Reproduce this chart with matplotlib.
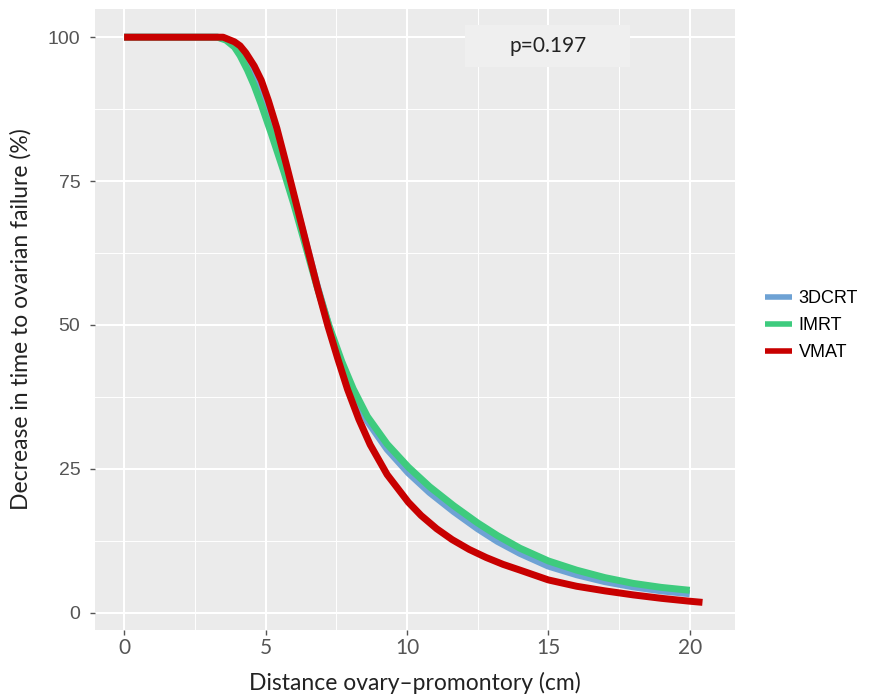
import matplotlib
matplotlib.use("Agg")
import matplotlib.pyplot as plt
from matplotlib.patches import Rectangle

# ---- data ----
x_crt  = [0, 3.3, 3.6, 3.9, 4.1, 4.36, 4.6, 4.85, 5.2, 5.65, 6.0, 6.4, 6.8, 7.25, 7.7, 8.1, 8.6, 9.3, 10.05, 10.8, 11.65, 12.5, 13.2, 14.0, 15.0, 16, 17, 18, 19, 20]
y_crt  = [100, 100, 99.7, 98.8, 97.5, 95.2, 92.7, 89.6, 84.8, 78.1, 72.3, 64.8, 57.3, 49.6, 43.0, 38.2, 33.3, 28.4, 24.3, 20.9, 17.6, 14.6, 12.4, 10.3, 8.1, 6.6, 5.4, 4.5, 3.8, 3.3]

x_imrt = [0, 3.3, 3.6, 3.9, 4.1, 4.36, 4.6, 4.85, 5.2, 5.65, 6.0, 6.4, 6.8, 7.25, 7.7, 8.1, 8.6, 9.3, 10.05, 10.8, 11.65, 12.5, 13.2, 14.0, 15.0, 16, 17, 18, 19, 20]
y_imrt = [100, 100, 99.5, 98.3, 96.8, 94.3, 91.6, 88.3, 83.3, 76.6, 71.0, 64.0, 57.0, 49.8, 43.6, 38.9, 34.1, 29.3, 25.3, 21.9, 18.6, 15.6, 13.4, 11.2, 9.0, 7.4, 6.1, 5.1, 4.4, 3.9]

x_vmat = [0, 3.5, 3.7, 3.9, 4.1, 4.3, 4.6, 4.85, 5.1, 5.4, 5.75, 6.1, 6.5, 6.85, 7.2, 7.55, 7.9, 8.3, 8.7, 9.3, 10.05, 10.5, 11.05, 11.6, 12.2, 12.8, 13.4, 14.0, 15.0, 16, 17, 18, 19, 20, 20.45]
y_vmat = [100, 100, 99.6, 99.2, 98.5, 97.3, 95.0, 92.5, 89.0, 84.2, 77.6, 70.8, 63.0, 56.2, 49.9, 44.2, 38.8, 33.6, 29.2, 24.0, 19.2, 16.9, 14.6, 12.7, 11.0, 9.6, 8.4, 7.4, 5.7, 4.6, 3.8, 3.1, 2.5, 2.0, 1.8]

series_names = ["3DCRT", "IMRT", "VMAT"]
x_ticks = [0, 5, 10, 15, 20]
y_ticks = [0, 25, 50, 75, 100]
p_text = "p=0.197"

colors = ["#6ea2d4", "#3ecb7e", "#c80000"]

fig = plt.figure(figsize=(8.72, 7.0), dpi=100)
ax = fig.add_axes([95/872, 1-630/700, (735-95)/872, (630-9)/700])
ax.set_facecolor("#ebebeb")
for s in ax.spines.values():
    s.set_visible(False)

ax.set_xlim(-1.03, 21.6)
ax.set_ylim(-3.0, 104.9)
ax.set_xticks(x_ticks)
ax.set_yticks(y_ticks)
ax.set_xticks([2.5, 7.5, 12.5, 17.5], minor=True)
ax.set_yticks([12.5, 37.5, 62.5, 87.5], minor=True)
ax.grid(which="major", color="white", lw=1.5)
ax.grid(which="minor", color="white", lw=0.7)
ax.set_axisbelow(True)
ax.tick_params(which="major", length=3.5, width=1, color="#555555")
ax.tick_params(axis="y", pad=7)
ax.tick_params(axis="x", pad=2)
ax.tick_params(which="minor", length=0)

for lab in ax.get_yticklabels():
    lab.set_fontfamily("Liberation Sans")
    lab.set_fontsize(14)
    lab.set_color("#555555")
for lab in ax.get_xticklabels():
    lab.set_fontfamily("Lato")
    lab.set_fontsize(15)
    lab.set_color("#555555")

for xs, ys, c, n in zip([x_crt, x_imrt, x_vmat], [y_crt, y_imrt, y_vmat], colors, series_names):
    ax.plot(xs, ys, color=c, lw=5, label=n, solid_capstyle="butt", solid_joinstyle="round", zorder=3)

ax.set_xlabel("Distance ovary–promontory (cm)", fontfamily="Lato", fontsize=16.5, color="#222222", labelpad=10)
ax.set_ylabel("Decrease in time to ovarian failure (%)", fontfamily="Lato", fontsize=16.5, color="#222222", labelpad=12)

ax.add_patch(Rectangle((0.578, 0.9066), 0.258, 0.0674, transform=ax.transAxes,
                       facecolor="#efefef", edgecolor="none", zorder=1.5))
ax.text(0.708, 0.940, p_text, transform=ax.transAxes, ha="center", va="center",
        fontfamily="Lato", fontsize=15, color="#222222", zorder=4)

leg = ax.legend(loc="center left", bbox_to_anchor=(1.022, 0.49), frameon=False,
                prop={"family": "Liberation Sans", "size": 13}, handlelength=1.45,
                handletextpad=0.4, labelspacing=0.55)
for h in leg.get_lines():
    h.set_linewidth(4)

fig.savefig("out.png", dpi=100)
